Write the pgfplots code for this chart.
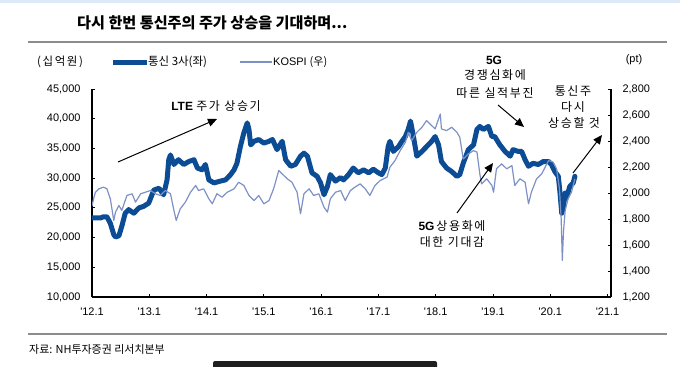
\documentclass[border=0pt]{standalone}
\usepackage{fontspec}
\setmainfont{Liberation Sans}
\newfontfamily\kr{Noto Sans CJK KR}
\newfontfamily\krs[LetterSpace=14]{Noto Sans CJK KR}
\usepackage{pgfplots}
\pgfplotsset{compat=1.18}
\usetikzlibrary{arrows.meta}
\definecolor{telco}{HTML}{0B4C94}
\definecolor{kospi}{HTML}{7D91C6}
\definecolor{sep}{HTML}{8C8C8C}
\definecolor{band}{HTML}{DDE9F7}

\pgfplotstableread{
t v
2012.00 23300
2012.15 23300
2012.20 23500
2012.26 23500
2012.32 22400
2012.38 20500
2012.41 20100
2012.47 20300
2012.52 21900
2012.58 24100
2012.64 24700
2012.73 24100
2012.82 25000
2012.90 25250
2012.99 25800
2013.08 28000
2013.17 28300
2013.25 27200
2013.31 29700
2013.34 33100
2013.37 33900
2013.43 32300
2013.51 33100
2013.60 32300
2013.69 32800
2013.78 33100
2013.84 31700
2013.92 31400
2013.98 32300
2014.04 29700
2014.13 29200
2014.24 29500
2014.33 29700
2014.42 30600
2014.48 31400
2014.53 32500
2014.59 35300
2014.65 37600
2014.71 39300
2014.74 38200
2014.77 35600
2014.83 36200
2014.91 36500
2015.00 35900
2015.09 36200
2015.15 36500
2015.23 34800
2015.32 36200
2015.38 33100
2015.47 32000
2015.55 32300
2015.64 33700
2015.70 34200
2015.76 33700
2015.84 30900
2015.93 30300
2015.99 29200
2016.05 27200
2016.11 28600
2016.16 30600
2016.25 29500
2016.34 30100
2016.39 29700
2016.48 30600
2016.56 31700
2016.65 30900
2016.74 31400
2016.83 30900
2016.91 31500
2017.00 30900
2017.06 30600
2017.12 31700
2017.17 35300
2017.20 36200
2017.26 34500
2017.35 35300
2017.41 36200
2017.47 37000
2017.52 38200
2017.56 39600
2017.60 37600
2017.67 33700
2017.76 34500
2017.84 35300
2017.93 36200
2017.99 37000
2018.05 35600
2018.10 32800
2018.19 31700
2018.28 31100
2018.37 30300
2018.42 30600
2018.48 32500
2018.57 34800
2018.66 35600
2018.72 38200
2018.77 38700
2018.83 38200
2018.92 38700
2018.98 37000
2019.03 37000
2019.12 35600
2019.21 34500
2019.30 33700
2019.35 34800
2019.44 34500
2019.50 34500
2019.56 33100
2019.62 32000
2019.70 32500
2019.79 32300
2019.88 32800
2019.97 32800
2020.02 32300
2020.08 31100
2020.14 30300
2020.17 27500
2020.20 24100
2020.23 25200
2020.26 27500
2020.28 26600
2020.34 28600
2020.40 29200
2020.43 30300
}\telcodata

\pgfplotstableread{
t v
2012.00 1900
2012.03 1960
2012.06 2006
2012.12 2032
2012.20 2045
2012.26 2032
2012.32 1955
2012.38 1789
2012.41 1853
2012.47 1904
2012.52 1866
2012.61 1981
2012.70 1994
2012.76 1930
2012.85 1994
2012.93 2006
2013.02 2019
2013.11 1994
2013.19 1981
2013.28 2019
2013.37 1994
2013.43 1866
2013.47 1789
2013.54 1878
2013.63 1930
2013.72 2006
2013.81 2058
2013.86 2019
2013.95 2032
2014.04 1955
2014.10 1917
2014.18 1994
2014.27 1968
2014.36 2006
2014.48 2032
2014.56 2083
2014.65 2058
2014.74 1981
2014.83 1942
2014.91 1981
2015.00 1917
2015.09 1942
2015.17 2032
2015.26 2173
2015.32 2147
2015.41 2109
2015.49 2083
2015.58 2006
2015.64 1840
2015.70 1994
2015.79 2032
2015.87 1981
2015.96 1994
2016.05 1891
2016.11 1853
2016.16 1955
2016.25 2006
2016.34 2019
2016.42 1942
2016.51 2019
2016.59 2045
2016.68 2070
2016.77 2032
2016.85 1981
2016.94 2058
2017.03 2096
2017.15 2122
2017.20 2198
2017.29 2250
2017.38 2326
2017.47 2390
2017.52 2467
2017.58 2403
2017.67 2467
2017.76 2506
2017.84 2557
2017.90 2531
2017.99 2493
2018.08 2608
2018.10 2493
2018.19 2480
2018.28 2506
2018.37 2467
2018.42 2429
2018.48 2262
2018.57 2301
2018.66 2326
2018.72 2315
2018.77 2147
2018.80 2070
2018.89 2109
2018.98 2058
2019.01 2006
2019.06 2186
2019.15 2224
2019.24 2186
2019.33 2211
2019.38 2058
2019.47 2109
2019.56 2083
2019.62 1917
2019.67 2006
2019.76 2109
2019.85 2147
2019.91 2198
2019.97 2250
2020.05 2237
2020.11 2186
2020.16 2032
2020.19 1802
2020.21 1482
2020.23 1699
2020.26 1866
2020.31 1955
2020.37 2006
2020.43 2109
}\kospidata

\begin{document}
\begin{tikzpicture}
\path[use as bounding box] (0,0) rectangle (680bp,-367bp);
\fill[band] (0,0) rectangle (680bp,-3bp);
\node[anchor=west, inner sep=0, font=\kr\bfseries\fontsize{15.2}{17}\selectfont] at (77bp,-23bp) {다시 한번 통신주의 주가 상승을 기대하며...};
\draw[sep, line width=2bp] (28bp,-41.7bp) -- (667bp,-41.7bp);
\draw[sep, line width=2bp] (28bp,-334bp) -- (667bp,-334bp);
\node[anchor=west, inner sep=0, font=\kr\fontsize{11}{13}\selectfont] at (29bp,-349bp) {자료: NH투자증권 리서치본부};
\fill[black!88, rounded corners=2bp] (213bp,-361bp) rectangle (437bp,-372bp);

% legend
\node[anchor=west, inner sep=0, font=\krs\fontsize{11.5}{13}\selectfont] at (37bp,-62bp) {(십억원)};
\draw[telco, line width=5bp] (113bp,-62bp) -- (147bp,-62bp);
\node[anchor=west, inner sep=0, font=\kr\fontsize{11.5}{13}\selectfont] at (148bp,-62bp) {통신 3사(좌)};
\draw[kospi, line width=1.2bp] (240bp,-62bp) -- (272bp,-62bp);
\node[anchor=west, inner sep=0, font=\fontsize{11}{13}\selectfont] at (273bp,-62bp) {KOSPI {\kr (우)}};
\node[inner sep=0, font=\fontsize{11}{13}\selectfont] at (634bp,-60bp) {(pt)};

\begin{axis}[
  at={(92bp,-297bp)}, anchor=south west,
  width=519bp, height=208bp, scale only axis,
  xmin=2012, xmax=2021.06, ymin=10000, ymax=45000,
  axis x line*=bottom, axis y line*=left,
  axis line style={-, black, line width=1.2bp},
  tick style={black, line width=1bp}, major tick length=3.5bp,
  xtick={2012,2013,...,2021},
  xticklabels={{\textquotesingle12.1},{\textquotesingle13.1},{\textquotesingle14.1},{\textquotesingle15.1},{\textquotesingle16.1},{\textquotesingle17.1},{\textquotesingle18.1},{\textquotesingle19.1},{\textquotesingle20.1},{\textquotesingle21.1}},
  ytick={10000,15000,...,45000},
  scaled y ticks=false,
  /pgf/number format/assume math mode=true,
  /pgf/number format/1000 sep={,},
  ticklabel style={font=\fontsize{11}{13}\selectfont},
  yticklabel style={xshift=-8bp},
  xticklabel style={yshift=-7bp},
]
\addplot[telco, line width=5bp, line join=round, line cap=round] table[x=t,y=v] {\telcodata};
\end{axis}
\begin{axis}[
  at={(92bp,-297bp)}, anchor=south west,
  width=519bp, height=208bp, scale only axis,
  xmin=2012, xmax=2021.06, ymin=1200, ymax=2800,
  axis x line=none, axis y line*=right,
  axis line style={-, black, line width=1.2bp},
  tick style={black, line width=1bp}, major tick length=3.5bp,
  ytick={1200,1400,...,2800},
  scaled y ticks=false,
  /pgf/number format/assume math mode=true,
  /pgf/number format/1000 sep={,},
  ticklabel style={font=\fontsize{11}{13}\selectfont},
  yticklabel style={xshift=8bp},
]
\addplot[kospi, line width=1.2bp, line join=round] table[x=t,y=v] {\kospidata};
\end{axis}

% annotations
\node[inner sep=0, font=\fontsize{12}{14}\selectfont] at (216bp,-106bp) {\textbf{LTE} {\krs 주가 상승기}};
\draw[-{Triangle[length=9bp,width=8bp]}, line width=1bp] (118bp,-162bp) -- (217bp,-119bp);

\node[inner sep=0, font=\bfseries\fontsize{12}{14}\selectfont] at (494bp,-60bp) {5G};
\node[inner sep=0, font=\krs\fontsize{12}{14}\selectfont] at (495bp,-75bp) {경쟁심화에};
\node[inner sep=0, font=\krs\fontsize{12}{14}\selectfont] at (495bp,-93bp) {따른 실적부진};
\draw[-{Triangle[length=9bp,width=8bp]}, line width=1bp] (498bp,-105bp) -- (524bp,-127bp);

\node[inner sep=0, font=\krs\fontsize{12}{14}\selectfont] at (573bp,-91bp) {통신주};
\node[inner sep=0, font=\krs\fontsize{12}{14}\selectfont] at (573bp,-107bp) {다시};
\node[inner sep=0, font=\krs\fontsize{12}{14}\selectfont] at (574bp,-123bp) {상승할 것};
\draw[-{Triangle[length=9bp,width=8bp]}, line width=1bp] (573bp,-173bp) -- (602bp,-135bp);

\node[inner sep=0, font=\fontsize{12}{14}\selectfont] at (452bp,-226bp) {\textbf{5G}\,{\krs 상용화에}};
\node[inner sep=0, font=\krs\fontsize{12}{14}\selectfont] at (452bp,-242bp) {대한 기대감};
\draw[-{Triangle[length=9bp,width=8bp]}, line width=1bp] (457bp,-213bp) -- (493bp,-163bp);
\end{tikzpicture}
\end{document}
